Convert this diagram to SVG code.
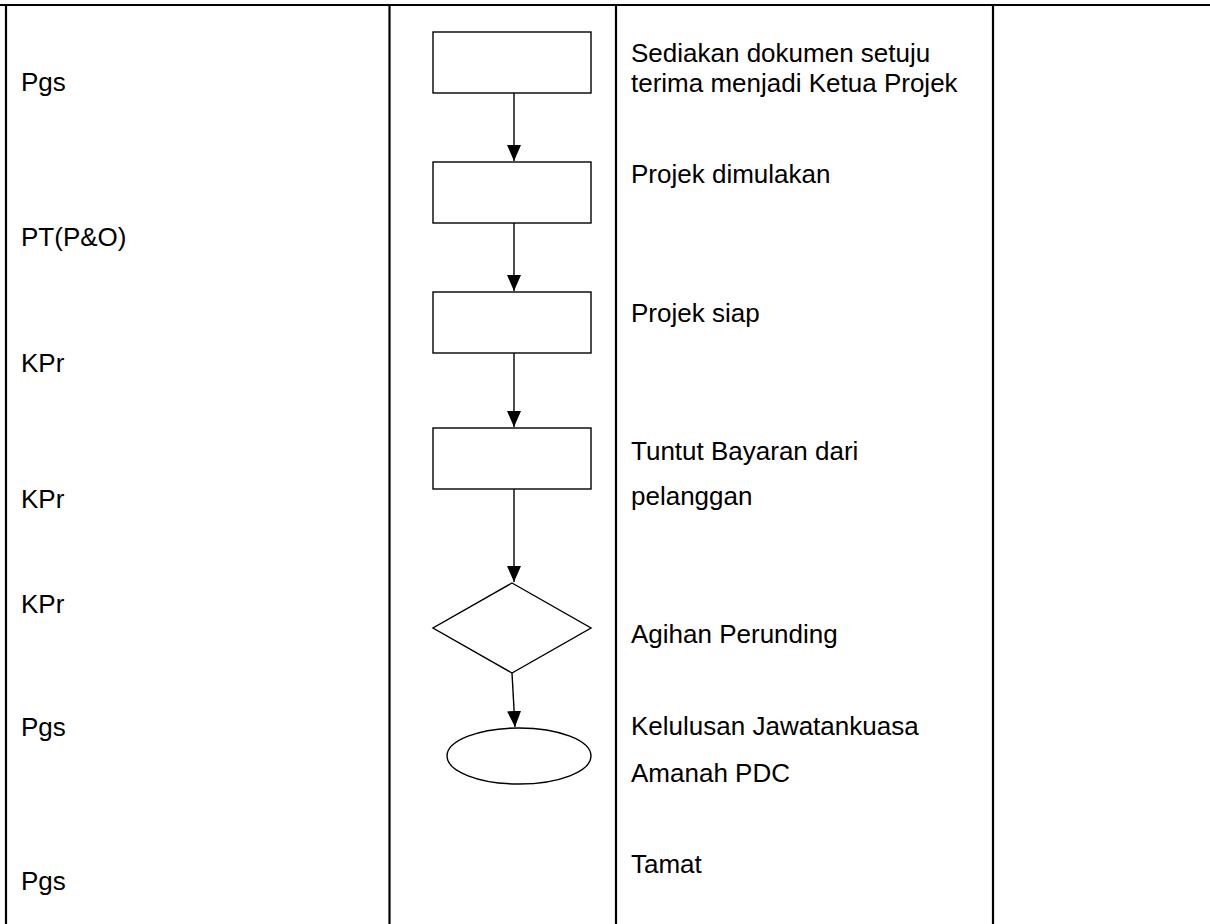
<svg xmlns="http://www.w3.org/2000/svg" width="1210" height="924" viewBox="0 0 1210 924">
<style>
.grid{stroke:#000;stroke-width:2.2;fill:none}
.shape{fill:#fff;stroke:#000;stroke-width:1.4}
.conn{stroke:#000;stroke-width:1.4;fill:none}
.t{font-family:"Liberation Sans",Arial,sans-serif;font-size:26px;fill:#000}
</style>
<defs>
<marker id="ah" markerUnits="userSpaceOnUse" markerWidth="17" markerHeight="15" refX="16" refY="7" orient="auto">
<path d="M0,0 L16,7 L0,14 z" fill="#000"/>
</marker>
</defs>
<rect width="1210" height="924" fill="#fff"/>
<g id="table">
<line class="grid" x1="0" y1="5" x2="1210" y2="5"/>
<line class="grid" x1="6" y1="5" x2="6" y2="924"/>
<line class="grid" x1="389.5" y1="5" x2="389.5" y2="924"/>
<line class="grid" x1="616" y1="5" x2="616" y2="924"/>
<line class="grid" x1="993" y1="5" x2="993" y2="924"/>
</g>
<g id="labels-left">
<text class="t" x="21" y="91">Pgs</text>
<text class="t" x="21" y="246">PT(P&amp;O)</text>
<text class="t" x="21" y="372">KPr</text>
<text class="t" x="21" y="508">KPr</text>
<text class="t" x="21" y="613">KPr</text>
<text class="t" x="21" y="736">Pgs</text>
<text class="t" x="21" y="890">Pgs</text>
</g>
<g id="labels-right">
<text class="t" x="631" y="62">Sediakan dokumen setuju</text>
<text class="t" x="631" y="92">terima menjadi Ketua Projek</text>
<text class="t" x="631" y="183">Projek dimulakan</text>
<text class="t" x="631" y="322">Projek siap</text>
<text class="t" x="631" y="460">Tuntut Bayaran dari</text>
<text class="t" x="631" y="505">pelanggan</text>
<text class="t" x="631" y="643">Agihan Perunding</text>
<text class="t" x="631" y="735">Kelulusan Jawatankuasa</text>
<text class="t" x="631" y="782">Amanah PDC</text>
<text class="t" x="631" y="873">Tamat</text>
</g>
<g id="node1"><rect class="shape" x="433" y="32" width="158" height="61"/></g>
<g id="node2"><rect class="shape" x="433" y="162" width="158" height="61"/></g>
<g id="node3"><rect class="shape" x="433" y="292" width="158" height="61"/></g>
<g id="node4"><rect class="shape" x="433" y="428" width="158" height="61"/></g>
<g id="node5"><polygon class="shape" points="512,583 591,628 512,673 433,628"/></g>
<g id="node6"><ellipse class="shape" cx="519" cy="756" rx="72" ry="28"/></g>
<g id="connectors">
<line class="conn" x1="514" y1="93" x2="514" y2="161" marker-end="url(#ah)"/>
<line class="conn" x1="514" y1="223" x2="514" y2="291" marker-end="url(#ah)"/>
<line class="conn" x1="514" y1="353" x2="514" y2="427" marker-end="url(#ah)"/>
<line class="conn" x1="514" y1="489" x2="514" y2="582" marker-end="url(#ah)"/>
<line class="conn" x1="512" y1="673" x2="515" y2="727" marker-end="url(#ah)"/>
</g>
</svg>
